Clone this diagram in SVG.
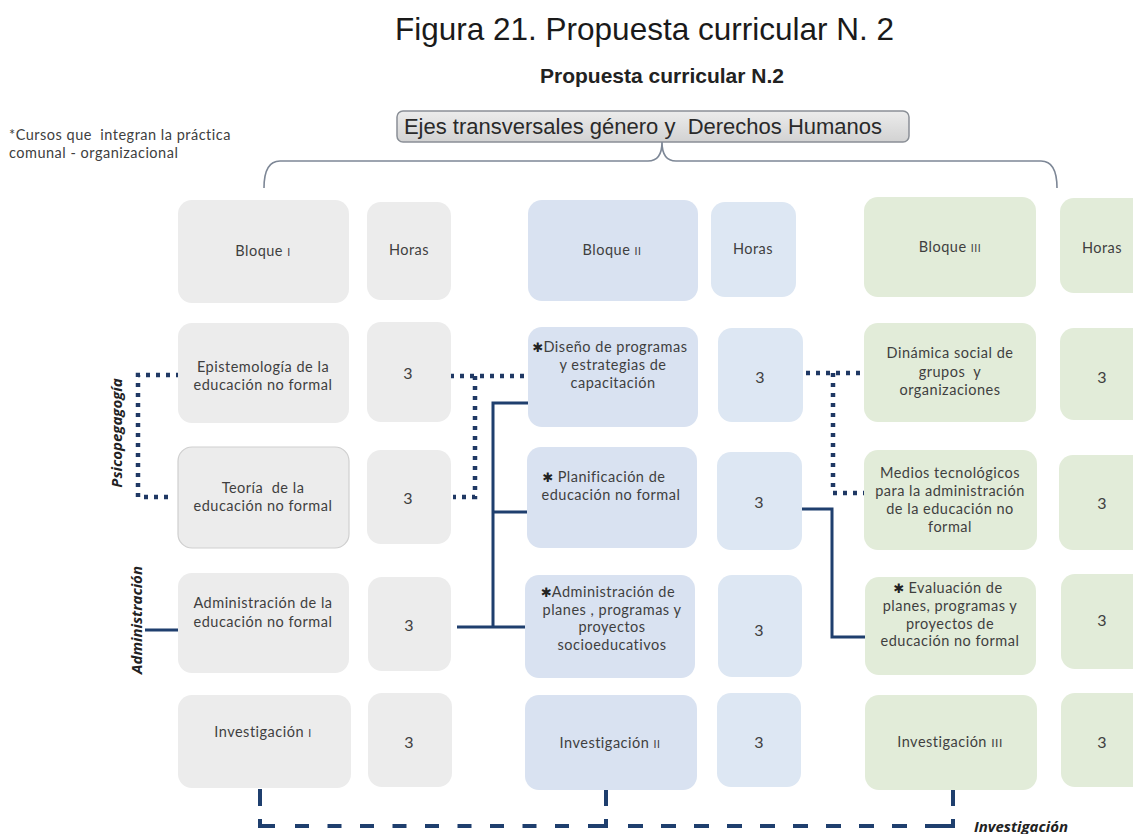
<svg xmlns="http://www.w3.org/2000/svg" width="1133" height="834" viewBox="0 0 1133 834">
<style>
.t{font-family:Lato,"Open Sans","Liberation Sans",sans-serif;font-size:14.5px;letter-spacing:0.5px;fill:#3f3f3f;text-anchor:middle}
.n{font-size:16px;letter-spacing:0}
.sm{font-size:10.5px}
.ast{font-family:"DejaVu Sans",sans-serif;font-size:13px;font-weight:bold;fill:#222;letter-spacing:0}
.g1{fill:#ececec}
.g2{fill:#d9e2f1}
.g2h{fill:#dde7f3}
.g3{fill:#e2ecd9}
.dot{fill:none;stroke:#1f3864;stroke-width:4.5;stroke-dasharray:4 6}
.sol{fill:none;stroke:#1f3f6e;stroke-width:3}
.dash{fill:none;stroke:#1f3f6e;stroke-width:4}
.lbl{font-family:"Open Sans",Lato,"Liberation Sans",sans-serif;font-weight:bold;font-style:italic;font-size:15px;fill:#222;text-anchor:middle}
</style>
<defs>
<linearGradient id="bg" x1="0" y1="0" x2="0" y2="1">
<stop offset="0" stop-color="#ececec"/>
<stop offset="1" stop-color="#d2d2d2"/>
</linearGradient>
</defs>
<rect width="1133" height="834" fill="#ffffff"/>

<g id="title">
<text x="395" y="40" font-family="'Liberation Sans',Arial,sans-serif" font-size="31.5" fill="#1a1a1a">Figura 21. Propuesta curricular N. 2</text>
<text x="662" y="83" font-family="'Liberation Sans',Arial,sans-serif" font-size="21" font-weight="bold" fill="#222" text-anchor="middle">Propuesta curricular N.2</text>
</g>

<g id="legend">
<text x="9" y="140" xml:space="preserve" font-family="Lato,'Open Sans',sans-serif" font-size="14.5" letter-spacing="0.5" fill="#404040">*Cursos que  integran la práctica</text>
<text x="9" y="158" font-family="Lato,'Open Sans',sans-serif" font-size="14.5" letter-spacing="0.5" fill="#404040">comunal - organizacional</text>
</g>

<g id="ejes">
<rect x="397" y="111" width="512" height="31" rx="6" fill="url(#bg)" stroke="#8a8f96" stroke-width="1.5"/>
<text x="643" y="134" xml:space="preserve" font-family="'Liberation Sans',Arial,sans-serif" font-size="22" fill="#2a2a2a" text-anchor="middle">Ejes transversales género y  Derechos Humanos</text>
</g>

<g id="connectors">
<path d="M264,188 Q264,161 280,161 H648 Q662,161 662,142 Q662,161 676,161 H1041 Q1057,161 1057,188" fill="none" stroke="#7d8796" stroke-width="1.6"/>
<path class="dot" d="M180,375 H138 V497 H172"/>
<path class="dot" d="M450,376 H524"/>
<path class="dot" d="M475,376 V497 H453"/>
<path class="dot" d="M806,373 H866"/>
<path class="dot" d="M833,373 V493 H866"/>
<path class="sol" d="M145,630 H178"/>
<path class="sol" d="M528,403 H493 V627"/>
<path class="sol" d="M493,512 H527"/>
<path class="sol" d="M457,627 H525"/>
<path class="sol" d="M802,509 H832 V637 H865"/>
<path class="dash" d="M260,789 V806"/>
<path class="dash" d="M606,789 V806"/>
<path class="dash" d="M953,789 V806"/>
<path class="dash" d="M260,819 V826 H275"/>
<path class="dash" d="M295,826 H570" stroke-dasharray="14 18.5"/>
<path class="dash" d="M588,826 H606 V819"/>
<path class="dash" d="M628,826 H940" stroke-dasharray="15 18"/>
<path class="dash" d="M940,826 H953 V819"/>
</g>

<g id="side-labels">
<text class="lbl" transform="translate(122,433) rotate(-90)">Psicopegagogía</text>
<text class="lbl" transform="translate(142,620) rotate(-90)">Administración</text>
<text class="lbl" x="1021" y="832">Investigación</text>
</g>

<g id="bloque1">
<rect class="g1" x="178" y="200" width="171" height="103" rx="14"/>
<text class="t" x="263" y="256">Bloque <tspan class="sm">I</tspan></text>
</g>
<g id="horas1">
<rect class="g1" x="367" y="202" width="84" height="98" rx="14"/>
<text class="t" x="409" y="255">Horas</text>
</g>
<g id="epistemologia">
<rect class="g1" x="178" y="323" width="171" height="100" rx="14"/>
<text class="t" x="263" y="372">Epistemología de la</text>
<text class="t" x="263" y="390">educación no formal</text>
</g>
<g id="h1r1">
<rect class="g1" x="367" y="322" width="84" height="100" rx="14"/>
<text class="t n" x="408" y="379">3</text>
</g>
<g id="teoria">
<rect class="g1" x="178" y="447" width="171" height="101" rx="14" stroke="#cfcfcf" stroke-width="1.2"/>
<text class="t" x="263" y="493" xml:space="preserve">Teoría  de la</text>
<text class="t" x="263" y="511">educación no formal</text>
</g>
<g id="h1r2">
<rect class="g1" x="367" y="450" width="84" height="94" rx="14"/>
<text class="t n" x="408" y="504">3</text>
</g>
<g id="administracion1">
<rect class="g1" x="178" y="573" width="171" height="100" rx="14"/>
<text class="t" x="263" y="608">Administración de la</text>
<text class="t" x="263" y="627">educación no formal</text>
</g>
<g id="h1r3">
<rect class="g1" x="368" y="577" width="83" height="94" rx="14"/>
<text class="t n" x="409" y="631">3</text>
</g>
<g id="investigacion1">
<rect class="g1" x="178" y="695" width="173" height="93" rx="14"/>
<text class="t" x="263" y="737">Investigación <tspan class="sm">I</tspan></text>
</g>
<g id="h1r4">
<rect class="g1" x="368" y="693" width="84" height="94" rx="14"/>
<text class="t n" x="409" y="748">3</text>
</g>

<g id="bloque2">
<rect class="g2" x="528" y="200" width="170" height="101" rx="14"/>
<text class="t" x="612" y="255">Bloque <tspan class="sm">II</tspan></text>
</g>
<g id="horas2">
<rect class="g2h" x="711" y="202" width="85" height="95" rx="14"/>
<text class="t" x="753" y="254">Horas</text>
</g>
<g id="diseno">
<rect class="g2" x="528" y="327" width="170" height="100" rx="14"/>
<text class="t" x="610" y="352"><tspan class="ast">✱</tspan>Diseño de programas</text>
<text class="t" x="613" y="370">y estrategias de</text>
<text class="t" x="613" y="388">capacitación</text>
</g>
<g id="h2r1">
<rect class="g2h" x="718" y="328" width="85" height="94" rx="14"/>
<text class="t n" x="760" y="383">3</text>
</g>
<g id="planificacion">
<rect class="g2" x="527" y="447" width="170" height="101" rx="14"/>
<text class="t" x="604" y="482" xml:space="preserve"><tspan class="ast">✱</tspan> Planificación de</text>
<text class="t" x="611" y="500">educación no formal</text>
</g>
<g id="h2r2">
<rect class="g2h" x="717" y="452" width="85" height="98" rx="14"/>
<text class="t n" x="759" y="508">3</text>
</g>
<g id="administracion2">
<rect class="g2" x="525" y="575" width="170" height="103" rx="14"/>
<text class="t" x="608" y="597"><tspan class="ast">✱</tspan>Administración de</text>
<text class="t" x="612" y="614.5">planes , programas y</text>
<text class="t" x="612" y="632">proyectos</text>
<text class="t" x="612" y="649.5">socioeducativos</text>
</g>
<g id="h2r3">
<rect class="g2h" x="718" y="575" width="84" height="102" rx="14"/>
<text class="t n" x="759" y="636">3</text>
</g>
<g id="investigacion2">
<rect class="g2" x="525" y="695" width="172" height="95" rx="14"/>
<text class="t" x="610" y="748">Investigación <tspan class="sm">II</tspan></text>
</g>
<g id="h2r4">
<rect class="g2h" x="717" y="693" width="84" height="94" rx="14"/>
<text class="t n" x="759" y="748">3</text>
</g>

<g id="bloque3">
<rect class="g3" x="864" y="197" width="172" height="100" rx="14"/>
<text class="t" x="950" y="252">Bloque <tspan class="sm">III</tspan></text>
</g>
<g id="horas3">
<rect class="g3" x="1060" y="198" width="90" height="95" rx="14"/>
<text class="t" x="1102" y="253">Horas</text>
</g>
<g id="dinamica">
<rect class="g3" x="864" y="323" width="172" height="99" rx="14"/>
<text class="t" x="950" y="358">Dinámica social de</text>
<text class="t" x="950" y="376.5" xml:space="preserve">grupos  y</text>
<text class="t" x="950" y="395">organizaciones</text>
</g>
<g id="h3r1">
<rect class="g3" x="1060" y="328" width="90" height="92" rx="14"/>
<text class="t n" x="1102" y="383">3</text>
</g>
<g id="medios">
<rect class="g3" x="864" y="450" width="173" height="100" rx="14"/>
<text class="t" x="950" y="478">Medios tecnológicos</text>
<text class="t" x="950" y="496">para la administración</text>
<text class="t" x="950" y="514">de la educación no</text>
<text class="t" x="950" y="532">formal</text>
</g>
<g id="h3r2">
<rect class="g3" x="1059" y="455" width="90" height="95" rx="14"/>
<text class="t n" x="1102" y="509">3</text>
</g>
<g id="evaluacion">
<rect class="g3" x="865" y="577" width="171" height="98" rx="14"/>
<text class="t" x="948" y="593" xml:space="preserve"><tspan class="ast">✱</tspan> Evaluación de</text>
<text class="t" x="950" y="611">planes, programas y</text>
<text class="t" x="950" y="628.5">proyectos de</text>
<text class="t" x="950" y="646">educación no formal</text>
</g>
<g id="h3r3">
<rect class="g3" x="1061" y="574" width="90" height="95" rx="14"/>
<text class="t n" x="1102" y="626">3</text>
</g>
<g id="investigacion3">
<rect class="g3" x="865" y="695" width="172" height="95" rx="14"/>
<text class="t" x="950" y="747">Investigación <tspan style="font-size:12px">III</tspan></text>
</g>
<g id="h3r4">
<rect class="g3" x="1061" y="693" width="90" height="94" rx="14"/>
<text class="t n" x="1102" y="748">3</text>
</g>
</svg>
